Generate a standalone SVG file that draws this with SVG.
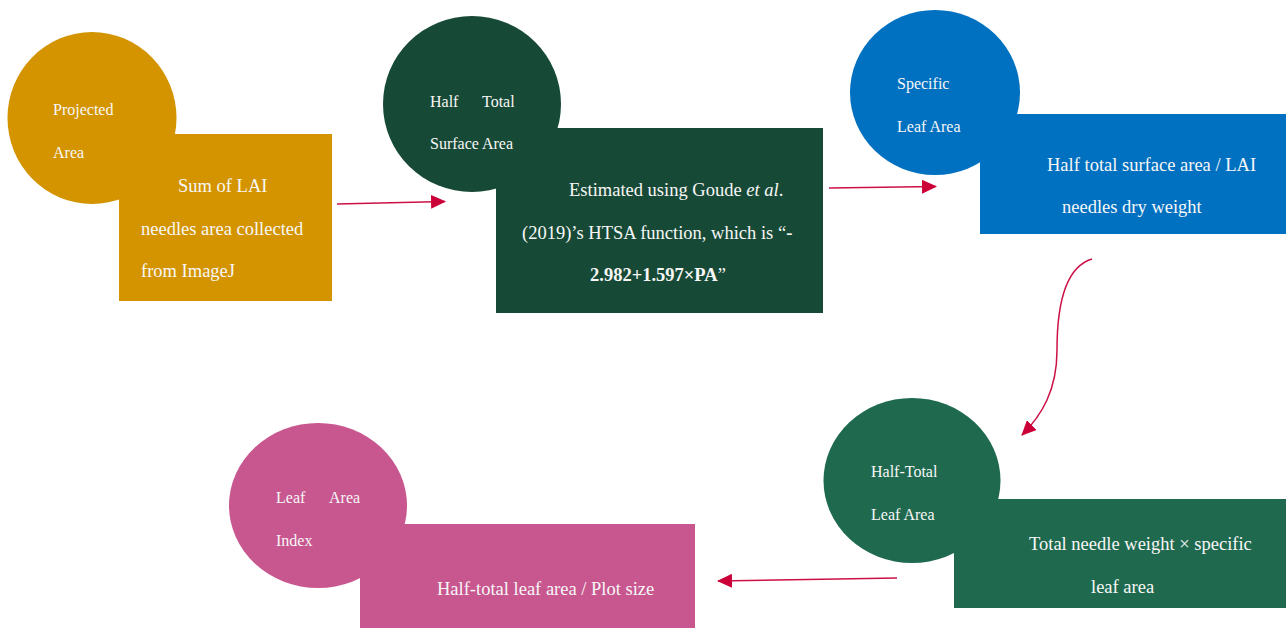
<svg xmlns="http://www.w3.org/2000/svg" width="1286" height="628" viewBox="0 0 1286 628">
<defs>
<style>
text{font-family:"Liberation Serif","Times New Roman",serif;fill:#F7F7F7}
.s{font-size:16px}
.m{font-size:18.5px}
.b{font-weight:bold}
.conn{fill:none;stroke:#CC1045;stroke-width:1.5}
</style>
<marker id="ah" viewBox="0 0 15 14" refX="14" refY="7" markerWidth="15" markerHeight="14" markerUnits="userSpaceOnUse" orient="auto">
<path d="M0,0 L15,7 L0,14 Z" fill="#CC0038"/>
</marker>
</defs>
<rect width="1286" height="628" fill="#FFFFFF"/>
<g id="connectors">
<path class="conn" d="M337,204 L445,201.5" marker-end="url(#ah)"/>
<path class="conn" d="M829,188 L936,186.5" marker-end="url(#ah)"/>
<path class="conn" d="M1092,259 C1062,268 1057,315 1057,350 C1057,390 1042,415 1022,435" marker-end="url(#ah)"/>
<path class="conn" d="M897,578 L718,581" marker-end="url(#ah)"/>
</g>
<g id="node-projected-area">
<ellipse cx="92" cy="118" rx="84.5" ry="86" fill="#D49400"/>
<rect x="119" y="134" width="213" height="167" fill="#D49400"/>
<text class="s" x="53" y="115">Projected</text>
<text class="s" x="53" y="158">Area</text>
<text class="m" x="178" y="192">Sum of LAI</text>
<text class="m" x="141" y="235">needles area collected</text>
<text class="m" x="141" y="277">from ImageJ</text>
</g>
<g id="node-htsa">
<ellipse cx="472" cy="104" rx="89" ry="88" fill="#174A36"/>
<rect x="496" y="128" width="327" height="185" fill="#174A36"/>
<text class="s" x="430" y="107">Half</text>
<text class="s" x="482" y="107">Total</text>
<text class="s" x="430" y="149">Surface Area</text>
<text class="m" x="569" y="196">Estimated using Goude <tspan font-style="italic">et al</tspan>.</text>
<text class="m" x="522" y="239">(2019)’s HTSA function, which is “<tspan class="b">-</tspan></text>
<text class="m" x="590" y="281"><tspan class="b">2.982+1.597×PA</tspan>”</text>
</g>
<g id="node-sla">
<ellipse cx="935" cy="92.5" rx="85" ry="82.5" fill="#0070C0"/>
<rect x="980" y="114" width="306" height="120" fill="#0070C0"/>
<text class="s" x="897" y="89">Specific</text>
<text class="s" x="897" y="132">Leaf Area</text>
<text class="m" x="1047" y="171">Half total surface area / LAI</text>
<text class="m" x="1062" y="213">needles dry weight</text>
</g>
<g id="node-htla">
<ellipse cx="912" cy="480.5" rx="88.5" ry="82.5" fill="#1F6A4F"/>
<rect x="954" y="499" width="332" height="109" fill="#1F6A4F"/>
<text class="s" x="871" y="477">Half-Total</text>
<text class="s" x="871" y="520">Leaf Area</text>
<text class="m" x="1029" y="550">Total needle weight × specific</text>
<text class="m" x="1091" y="593">leaf area</text>
</g>
<g id="node-lai">
<ellipse cx="318" cy="505.5" rx="89" ry="82.5" fill="#C8568F"/>
<rect x="360" y="524" width="335" height="104" fill="#C8568F"/>
<text class="s" x="276" y="503">Leaf</text>
<text class="s" x="329" y="503">Area</text>
<text class="s" x="276" y="546">Index</text>
<text class="m" x="437" y="595">Half-total leaf area / Plot size</text>
</g>
</svg>
